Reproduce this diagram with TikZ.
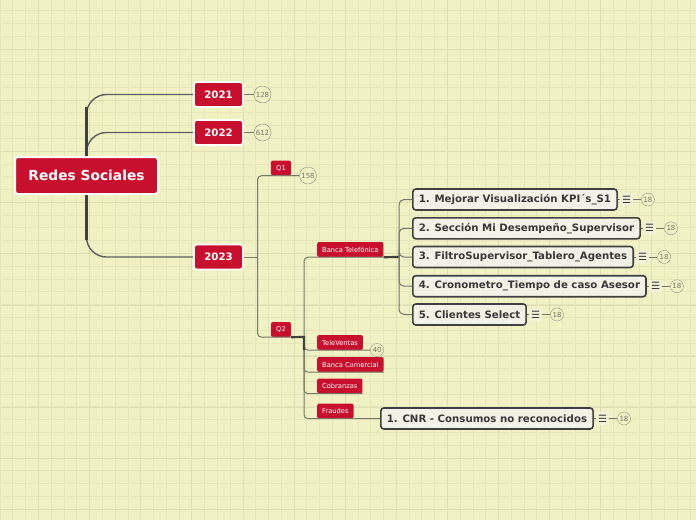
\documentclass[tikz,border=0pt]{standalone}
\usepackage{fontspec}
\setmainfont{DejaVu Sans}
\usetikzlibrary{positioning}
\definecolor{paper}{HTML}{F1F2C4}
\definecolor{gridln}{HTML}{E5E6BC}
\definecolor{gridmj}{HTML}{DEDFB2}
\definecolor{crimson}{HTML}{C8102E}
\definecolor{linkc}{HTML}{77776C}
\definecolor{trunkc}{HTML}{404040}
\definecolor{cream}{HTML}{F3F2E6}
\definecolor{ink}{HTML}{383838}

\begin{document}
\begin{tikzpicture}[x=1pt,y=-1pt,
  rootbox/.style={rectangle,rounded corners=3pt,fill=crimson,draw=white,line width=2pt,text=white,
    font=\fontsize{13.8}{16}\selectfont\bfseries,minimum width=143pt,minimum height=37pt,inner sep=0pt},
  yearbox/.style={rectangle,rounded corners=3pt,fill=crimson,draw=white,line width=1.6pt,text=white,
    font=\fontsize{10.2}{12}\selectfont\bfseries,minimum width=49pt,minimum height=25pt,inner sep=0pt},
  tagbox/.style={rectangle,rounded corners=2pt,fill=crimson,text=white,
    font=\fontsize{6.7}{8}\selectfont,minimum height=15pt,inner xsep=5pt,inner ysep=0pt},
  taskbox/.style={rectangle,rounded corners=3pt,fill=cream,draw=trunkc,line width=1.6pt,text=ink,
    font=\fontsize{10.2}{12}\selectfont\bfseries,minimum height=21pt,inner xsep=6pt,inner ysep=0pt},
  menu/.style={rectangle,fill=cream!60!paper,text=ink,font=\fontsize{10}{10}\selectfont,
    minimum width=13pt,minimum height=13pt,inner sep=0pt},
  tally/.style={circle,draw=linkc!80,fill=paper,text=linkc,font=\fontsize{7}{8}\selectfont,
    inner sep=0pt,minimum size=17pt},
  minitally/.style={tally,minimum size=13pt},
  link/.style={draw=linkc,line width=1pt},
  trunk/.style={draw=trunkc,line width=2.2pt}
]
% paper and grid
\useasboundingbox[fill=paper] (0,0) rectangle (696,520);
\foreach \i in {0,...,54}
  \draw[gridln,line width=0.6pt] (\i*12.78,0) -- (\i*12.78,520);
\foreach \i in {1,...,41}
  \draw[gridln,line width=0.6pt] (0,\i*12.78-2.26) -- (696,\i*12.78-2.26);
\foreach \i in {0,...,12}
  \draw[gridmj,line width=0.7pt] (38.4+\i*51.12,0) -- (38.4+\i*51.12,520);
\foreach \i in {0,...,9}
  \draw[gridmj,line width=0.7pt] (0,49.3+\i*51.12) -- (696,49.3+\i*51.12);

% root and years
\node[rootbox] (root) at (86.5,175.5) {Redes Sociales};
\node[yearbox] (y2021) at (218.5,94.5) {2021};
\node[yearbox] (y2022) at (218.5,132.5) {2022};
\node[yearbox] (y2023) at (218.5,257) {2023};
\begin{scope}[on background layer/.try]
\end{scope}
\draw[link,draw=trunkc!85,line width=1.4pt,rounded corners=20pt] (root.north) |- (y2021.west);
\draw[link,draw=trunkc!85,line width=1.4pt,rounded corners=20pt] (root.north) |- (y2022.west);
\draw[link,draw=trunkc!85,line width=1.4pt,rounded corners=20pt] (root.south) |- (y2023.west);
\draw[trunk,line width=3pt] (root.north) -- ++(0,-49);
\draw[trunk,line width=3pt] (root.south) -- ++(0,45);
\node[tally] (c2021) at (262.5,94.5) {128};
\node[tally] (c2022) at (262.5,132.5) {612};
\draw[link] (y2021) -- (c2021);
\draw[link] (y2022) -- (c2022);

% quarters
\node[tagbox,minimum width=20pt,inner xsep=0pt] (q1) at (281,168) {Q1};
\node[tagbox,minimum width=20pt,inner xsep=0pt] (q2) at (281,329.5) {Q2};
\node[tally] (c158) at (308,175.5) {158};
\coordinate (fork1) at (257.5,257);
\draw[link] (y2023) -- (fork1);
\draw[link,rounded corners=4pt] (fork1) |- (q1.south east);
\draw[link,rounded corners=4pt] (fork1) |- (q2.south east);
\draw[link] (q1.south east) -- (c158);

% Q2 branches
\node[tagbox,anchor=west] (bt) at (317,249.5) {Banca Telefónica};
\node[tagbox,anchor=west] (tv) at (317,342.5) {TeleVentas};
\node[tagbox,anchor=west] (bc) at (317,364.5) {Banca Comercial};
\node[tagbox,anchor=west] (cb) at (317,386) {Cobranzas};
\node[tagbox,anchor=west] (fr) at (317,411) {Fraudes};
\node[minitally] (c40) at (377,350) {40};
\coordinate (fork2) at (304,337);
\draw[link,rounded corners=4pt] (fork2) |- (bt.south east);
\draw[link,rounded corners=4pt] (fork2) |- (tv.south east);
\draw[link,rounded corners=4pt] (fork2) |- (bc.south east);
\draw[link,rounded corners=4pt] (fork2) |- (cb.south east);
\draw[link,rounded corners=4pt] (fork2) |- (fr.south east);
\draw[trunk] (q2.south east) -- (fork2) -- ++(0,13);
\draw[link] (tv.south east) -- (c40);

% Banca Telefonica tasks
\node[taskbox,anchor=west] (t1) at (412,199.5) {1. Mejorar Visualización KPI´s\_S1};
\node[taskbox,anchor=west] (t2) at (412,228.3) {2. Sección Mi Desempeño\_Supervisor};
\node[taskbox,anchor=west] (t3) at (412,257) {3. FiltroSupervisor\_Tablero\_Agentes};
\node[taskbox,anchor=west] (t4) at (412,286.2) {4. Cronometro\_Tiempo de caso Asesor};
\node[taskbox,anchor=west] (t5) at (412,314.5) {5. Clientes Select};
\coordinate (fork3) at (399,257);
\draw[trunk] (bt.south east) -- (fork3);
\foreach \t in {t1,t2,t3,t4,t5}
  \draw[link,rounded corners=5pt] (fork3) |- (\t.west);

% Fraudes task
\node[taskbox,anchor=west] (cnr) at (380,418.5) {1. CNR - Consumos no reconocidos};
\draw[link] (fr.south east) -- (cnr.west);

% notes and counts
\foreach \t in {t1,t2,t3,t4,t5,cnr} {
  \node[menu,right=2pt of \t] (m\t) {☰};
  \node[minitally,right=8pt of m\t] (n\t) {18};
  \draw[link] (\t) -- (m\t);
  \draw[link] (m\t) -- (n\t);
}
\end{tikzpicture}
\end{document}
